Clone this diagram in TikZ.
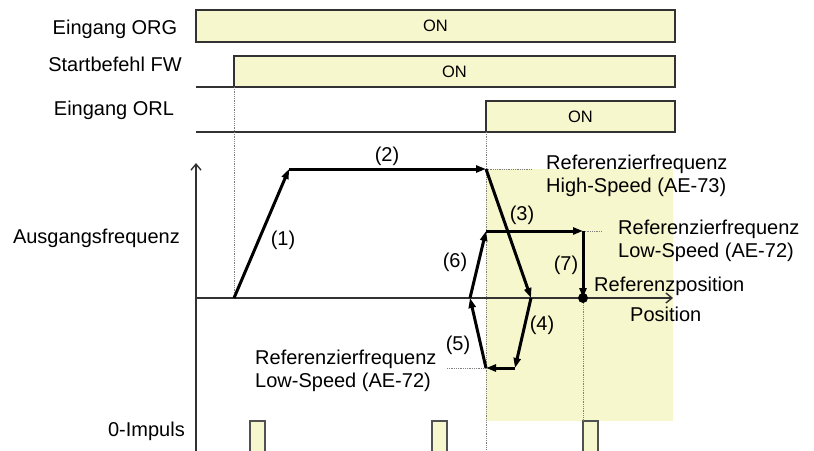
\documentclass[tikz,border=0pt]{standalone}
\usepackage{fontspec}
\setmainfont{Liberation Sans}
\usetikzlibrary{arrows.meta, positioning}
\definecolor{onfill}{RGB}{247,247,206}
\definecolor{edge}{RGB}{50,50,50}

\begin{document}
\begin{tikzpicture}[
  x=1pt, y=-1pt,
  txt/.style={font=\fontsize{20}{23}\selectfont, inner sep=0pt, align=left},
  onbox/.style={rectangle, draw=edge, line width=2pt, fill=onfill, anchor=north west, inner sep=0pt, outer sep=0pt, font=\fontsize{16.5}{19}\selectfont},
  low/.style={draw=edge, line width=2pt},
  prof/.style={-{Triangle[length=10pt, width=7pt]}, line width=3pt, draw=black},
  axis/.style={-{Straight Barb[length=6pt, width=10pt]}, line width=1.4pt, draw=edge},
  guide/.style={draw=gray, densely dotted, line width=0.8pt},
  pulse/.style={rectangle, draw=edge!85, line width=1.8pt, fill=onfill, minimum width=15pt, minimum height=40pt, anchor=north west, inner sep=0pt, outer sep=0pt}
]
\clip (0,0) rectangle (814,450);

% Eingangssignale
\node[onbox, minimum width=479pt, minimum height=32pt] (org) at (196,10) {ON};
\node[onbox, minimum width=441pt, minimum height=31pt] (fw) at (234,56) {ON};
\node[onbox, minimum width=189pt, minimum height=31pt] (orl) at (486,101) {ON};
\coordinate (fw0) at (196,87);
\coordinate (orl0) at (196,132);
\draw[low] (fw0) -- (fw.south west);
\draw[low] (orl0) -- (orl.south west);

\node[txt, anchor=base] (lorg) at (115,34) {Eingang ORG};
\node[txt, anchor=base] (lfw) at (115,71) {Startbefehl FW};
\node[txt, anchor=base] (lorl) at (114,115) {Eingang ORL};

% Suchbereich (Low-Speed)
\fill[onfill] (486,169) rectangle (673,421);

% Profilpunkte
\coordinate (p0) at (234,298);
\coordinate (p1) at (289,169);
\coordinate (p2) at (486,169);
\coordinate (p3) at (531,298);
\coordinate (p4) at (515,368);
\coordinate (p5) at (486,368);
\coordinate (p6) at (470,298);
\coordinate (p7) at (486,231);
\coordinate (p8) at (583,231);
\coordinate (p9) at (583,298);

% 0-Impulse
\foreach \x/\n in {250/1, 432/2, 583/3}
  \node[pulse] (imp\n) at (\x,421) {};

% Hilfslinien
\coordinate (g1) at (532,169);
\coordinate (g2) at (602,231);
\coordinate (g3) at (447,368);
\coordinate (g4) at (486,450);
\draw[guide] (fw.south west) -- (p0);
\draw[guide] (orl.south west) -- (g4);
\draw[guide] (p2) -- (g1);
\draw[guide] (p8) -- (g2);
\draw[guide] (g3) -- (p5);
\draw[guide] (p9) -- (imp3.north west);

% Achsen
\coordinate (o) at (196,298);
\coordinate (ybot) at (196,452);
\coordinate (ytop) at (196,163);
\coordinate (xend) at (673,298);
\draw[axis] (ybot) -- (ytop);
\draw[axis] (o) -- (xend);

% Frequenzverlauf
\draw[prof] (p0) -- (p1);
\draw[prof] (p1) -- (p2);
\draw[prof] (p2) -- (p3);
\draw[prof] (p3) -- (p4);
\draw[prof] (p4) -- (p5);
\draw[prof] (p5) -- (p6);
\draw[prof] (p6) -- (p7);
\draw[prof] (p7) -- (p8);
\draw[prof] (p8) -- (p9);
\fill (p9) circle (5pt);

% Beschriftungen
\node[txt, anchor=base] (n1) at (283,245) {(1)};
\node[txt, anchor=base] (n2) at (387,161) {(2)};
\node[txt, anchor=base] (n3) at (522,220) {(3)};
\node[txt, anchor=base] (n4) at (542,330) {(4)};
\node[txt, anchor=base] (n5) at (458,350) {(5)};
\node[txt, anchor=base] (n6) at (455,267) {(6)};
\node[txt, anchor=base] (n7) at (566,270) {(7)};

\node[txt, anchor=base east] (lfreq) at (180,243) {Ausgangsfrequenz};
\node[txt, anchor=base east] (limp) at (185,436) {0-Impuls};
\node[txt, anchor=north west] (high) at (546,155) {Referenzierfrequenz\\High-Speed (AE-73)};
\node[txt, anchor=north west] (lowr) at (618,220) {Referenzierfrequenz\\Low-Speed (AE-72)};
\node[txt, anchor=north west] (lowl) at (255,350) {Referenzierfrequenz\\Low-Speed (AE-72)};
\node[txt, anchor=base west] (refpos) at (594,291) {Referenzposition};
\node[txt, anchor=base west] (pos) at (630,321) {Position};

\end{tikzpicture}
\end{document}
